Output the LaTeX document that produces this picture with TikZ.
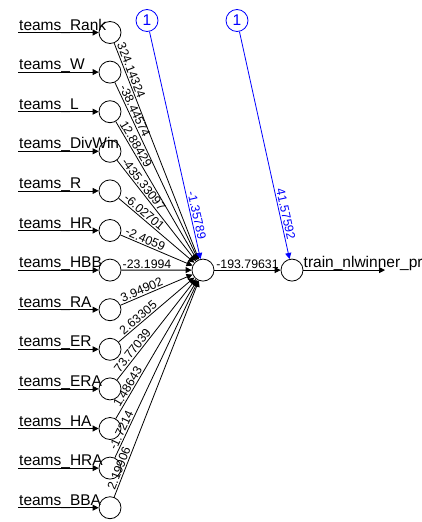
\documentclass[tikz,border=0pt]{standalone}
\usepackage{fontspec}
\setmainfont{Liberation Sans}
\usetikzlibrary{calc,arrows.meta}
\tikzset{
  neuron/.style={circle,draw=black,line width=0.8pt,minimum size=22pt,inner sep=0pt},
  bneuron/.style={circle,draw=blue,text=blue,line width=0.8pt,minimum size=22pt,inner sep=0pt,font=\fontsize{15.5}{17}\selectfont},
  arr/.style={draw=black,line width=0.8pt,-{Triangle[length=6pt,width=6pt]}},
  barr/.style={draw=blue,line width=0.8pt,-{Triangle[length=6pt,width=6pt]}},
  inlabel/.style={inner sep=0pt,font=\fontsize{15.5}{17}\selectfont},
  wlabel/.style={inner sep=1.5pt,font=\fontsize{12.3}{14}\selectfont},
  bwlabel/.style={inner sep=1.5pt,text=blue,font=\fontsize{12.3}{14}\selectfont}
}
\begin{document}
\begin{tikzpicture}[x=1pt,y=-1pt]
\useasboundingbox (0,0) rectangle (421,522);
\node[neuron] (h) at (203,270.1) {};
\node[neuron] (o) at (292,270.1) {};
\node[bneuron] (b1) at (147,20.5) {1};
\node[bneuron] (b2) at (237,20.5) {1};
\foreach \k/\nm/\w/\d in {0/Rank/324.14324/86pt, 1/W/-38.44574/92pt, 2/L/12.88429/82pt,
  3/DivWin/-435.33097/94pt, 4/R/-6.02701/80pt, 5/HR/-2.4059/72pt, 6/HBB/-23.1994/74pt,
  7/RA/3.94902/74pt, 8/ER/2.63305/84pt, 9/ERA/73.77039/88pt, 10/HA/1.48643/90pt,
  11/HRA/-1.7214/78pt, 12/BBA/2.19906/80pt} {
  \node[neuron] (i\k) at (110,32.5+39.6*\k) {};
  \coordinate (s\k) at (18,32.5+39.6*\k);
  \node[inlabel,anchor=base west] (l\k) at (19,32.5+39.6*\k-2.5) {teams\_\nm};
  \draw[arr] (s\k) -- (i\k);
  \draw[arr] (i\k) -- (h);
  \path (i\k.center) -- ($(i\k)!\d!(h)$) node[midway,sloped,above,wlabel] {\w};
}
\draw[arr] (h) -- (o) node[midway,above,wlabel] {-193.79631};
\coordinate (oe) at (385,270.1);
\draw[arr] (o) -- (oe);
\node[inlabel,anchor=base west] (ol) at (303.5,267.6) {train\_nlwinner\_pr};
\draw[barr] (b1) -- (h);
\draw[barr] (b2) -- (o);
\path ($(h)!65pt!(b1)$) -- ($(h)!45pt!(b1)$) node[midway,sloped,above,bwlabel] {-1.35789};
\path ($(o)!66pt!(b2)$) -- ($(o)!46pt!(b2)$) node[midway,sloped,above,bwlabel] {41.57592};
\end{tikzpicture}
\end{document}
